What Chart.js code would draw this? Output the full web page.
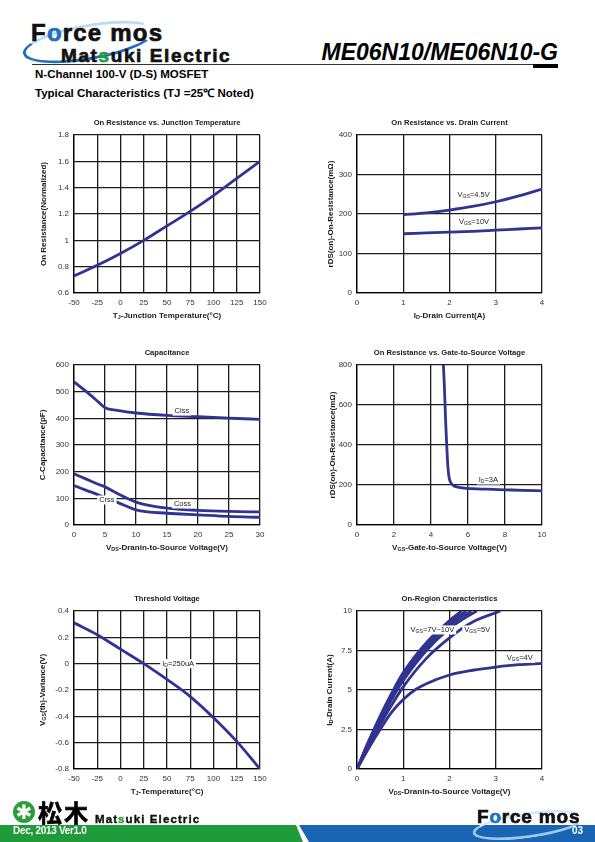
<!DOCTYPE html>
<html lang="en">
<head>
<meta charset="UTF-8">
<title>ME06N10 Typical Characteristics</title>
<style>
  body { margin: 0; width: 595px; height: 842px; position: relative; background: #fff; overflow: hidden;
         font-family: 'Liberation Sans', Arial, sans-serif; }
  canvas { position: absolute; }
  .abs { position: absolute; white-space: nowrap; line-height: 1; }
  .logo { font-weight: bold; color: #111; -webkit-text-stroke: 0.7px #111; }
  .blue { color: #1f6fc4; -webkit-text-stroke-color: #1f6fc4; }
  .green { color: #2a9d3b; -webkit-text-stroke-color: #2a9d3b; }
  .swoosh { position: absolute; border: 3px solid transparent; border-radius: 50%; }
</style>
<script src="https://cdn.jsdelivr.net/npm/chart.js@4"></script>
</head>
<body>
  <!-- header -->
  <div class="swoosh" style="left:22px;top:24px;width:128px;height:30px;border-bottom-color:#1f6fc4;border-left-color:#1f6fc4;border-top-color:#bcd9f2;transform:rotate(-10deg);"></div>
  <div class="abs logo" style="left:31px;top:21px;font-size:24px;letter-spacing:1.2px;">F<span class="blue">o</span>rce mos</div>
  <div class="abs logo" style="left:61px;top:46px;font-size:19px;letter-spacing:1.6px;">Mat<span class="green">s</span>uki Electric</div>
  <div class="abs" style="right:37px;top:41px;font-size:23px;font-weight:bold;font-style:italic;">ME06N10/ME06N10-G</div>
  <div style="position:absolute;left:32px;top:64px;width:526px;height:1px;background:#333;"></div>
  <div style="position:absolute;left:533px;top:64px;width:25px;height:4px;background:#000;"></div>
  <div class="abs" style="left:35px;top:69px;font-size:11.5px;font-weight:bold;">N-Channel 100-V (D-S) MOSFET</div>
  <div class="abs" style="left:35px;top:88px;font-size:11.5px;font-weight:bold;">Typical Characteristics (TJ =25℃ Noted)</div>

  <canvas id="rdsTemp"></canvas>
  <canvas id="rdsCurrent"></canvas>
  <canvas id="capacitance"></canvas>
  <canvas id="rdsGate"></canvas>
  <canvas id="threshold"></canvas>
  <canvas id="onRegion"></canvas>

  <!-- footer -->
  <div style="position:absolute;left:13px;top:801px;width:22px;height:22px;border-radius:50%;background:#2a9d3b;color:#fff;font:bold 20px 'DejaVu Sans';text-align:center;line-height:22px;">✱</div>
  <div class="abs" style="left:38px;top:800px;font-family:'Noto Sans CJK JP';font-weight:bold;font-size:24px;letter-spacing:2px;-webkit-text-stroke:0.6px #000;">松木</div>
  <div class="abs logo" style="left:95px;top:814px;font-size:11.5px;letter-spacing:1.1px;-webkit-text-stroke-width:0.4px;">Mat<span class="green">s</span>uki Electric</div>
  <div style="position:absolute;left:0;top:825px;width:595px;height:17px;background:#1f9a3a;clip-path:polygon(0 0,296px 0,303px 100%,0 100%);"></div>
  <div style="position:absolute;left:0;top:825px;width:595px;height:17px;background:#1a64b4;clip-path:polygon(299px 0,100% 0,100% 100%,309px 100%);"></div>
  <div class="abs" style="left:13px;top:826px;font-size:10px;font-weight:bold;color:#fff;letter-spacing:-0.3px;">Dec, 2013 Ver1.0</div>
  <div class="swoosh" style="left:472px;top:812px;width:108px;height:20px;border-bottom-color:#9cc8ef;border-left-color:#9cc8ef;border-top-color:#d6e9f8;transform:rotate(-8deg);"></div>
  <div class="abs logo" style="left:477px;top:807px;font-size:19px;letter-spacing:0.8px;">F<span class="blue">o</span>rce mos</div>
  <div class="abs" style="left:572px;top:826px;font-size:10px;font-weight:bold;color:#fff;">03</div>

<script>
const INK = '#30338f';
const FONT = "'Liberation Sans', Arial, sans-serif";

// 1. On resistance vs. junction temperature
const tjTemp = [-50, -25, 0, 25, 50, 75, 100, 125, 150];
const rdsNorm = [0.73, 0.81, 0.90, 1.00, 1.11, 1.22, 1.34, 1.47, 1.60];
const tempTicks = [-50, -25, 0, 25, 50, 75, 100, 125, 150];
const normTicks = [0.6, 0.8, 1, 1.2, 1.4, 1.6, 1.8];

// 2. On resistance vs. drain current
const idAmps = [1, 1.5, 2, 2.5, 3, 3.5, 4];
const rdsVgs45 = [198, 203, 210, 219, 231, 246, 263];
const rdsVgs10 = [150, 152, 154, 156, 159, 162, 165];
const ampTicks = [0, 1, 2, 3, 4];
const rdsTicks = [0, 100, 200, 300, 400];

// 3. Capacitance
const vdsCap = [0, 2, 4, 5, 7, 10, 15, 20, 25, 30];
const ciss = [537, 500, 460, 440, 430, 420, 411, 406, 401, 396];
const coss = [192, 172, 152, 143, 118, 86, 63, 55, 51, 49];
const crss = [148, 130, 112, 102, 85, 57, 44, 38, 32, 29];
const vdsCapTicks = [0, 5, 10, 15, 20, 25, 30];
const capTicks = [0, 100, 200, 300, 400, 500, 600];

// 4. On resistance vs. gate-to-source voltage
const vgsGate = [4.67, 4.72, 4.76, 4.8, 4.85, 4.9, 4.95, 5.0, 5.1, 5.25, 5.5, 6, 7, 8, 9, 10];
const rdsGate = [800, 700, 600, 500, 400, 310, 255, 228, 208, 195, 188, 183, 179, 176, 173, 171];
const vgsTicks = [0, 2, 4, 6, 8, 10];
const rdsGateTicks = [0, 200, 400, 600, 800];

// 5. Threshold voltage
const tjVth = [-50, -25, 0, 25, 50, 75, 100, 125, 150];
const vthVar = [0.31, 0.22, 0.11, 0.0, -0.12, -0.25, -0.41, -0.59, -0.80];
const vthTicks = [-0.8, -0.6, -0.4, -0.2, 0, 0.2, 0.4];

// 6. On-region characteristics
const vdsV10 = [0, 0.25, 0.5, 0.75, 1, 1.5, 2, 2.26];
const idV10 = [0, 1.75, 3.35, 4.8, 6.1, 8.0, 9.4, 10];
const vdsV9 = [0, 0.25, 0.5, 0.75, 1, 1.5, 2, 2.36];
const idV9 = [0, 1.7, 3.25, 4.7, 5.95, 7.85, 9.25, 10];
const vdsV8 = [0, 0.25, 0.5, 0.75, 1, 1.5, 2, 2.47];
const idV8 = [0, 1.65, 3.15, 4.55, 5.8, 7.7, 9.1, 10];
const vdsV7 = [0, 0.25, 0.5, 0.75, 1, 1.5, 2, 2.3, 2.59];
const idV7 = [0, 1.6, 3.0, 4.4, 5.6, 7.5, 8.9, 9.5, 10];
const vdsV5 = [0, 0.25, 0.5, 0.75, 1, 1.5, 2, 2.5, 3.1];
const idV5 = [0, 1.45, 2.8, 4.05, 5.2, 7.0, 8.3, 9.3, 10];
const vdsV4 = [0, 0.25, 0.5, 0.75, 1, 1.25, 1.5, 2, 2.5, 3, 3.5, 4];
const idV4 = [0, 1.3, 2.5, 3.6, 4.4, 5.0, 5.4, 5.95, 6.25, 6.45, 6.6, 6.68];
const vdsTicks = [0, 1, 2, 3, 4];
const idTicks = [0, 2.5, 5, 7.5, 10];

// text with subscripts: segments split by "_", odd segments are subscripts
function drawRich(ctx, str, x, y, size, bold, bg) {
  const parts = str.split('_');
  const base = (bold ? 'bold ' : '') + size + 'px ' + FONT;
  const small = (bold ? 'bold ' : '') + (size * 0.68).toFixed(1) + 'px ' + FONT;
  let w = 0;
  parts.forEach((p, i) => { ctx.font = i % 2 ? small : base; w += ctx.measureText(p).width; });
  let cx = x - w / 2;
  if (bg) { ctx.fillStyle = '#fff'; ctx.fillRect(cx - 2, y - size * 0.6, w + 4, size * 1.2); }
  ctx.fillStyle = '#1a1a1a';
  ctx.textAlign = 'left';
  ctx.textBaseline = 'middle';
  parts.forEach((p, i) => {
    ctx.font = i % 2 ? small : base;
    ctx.fillText(p, cx, y + (i % 2 ? size * 0.22 : 0));
    cx += ctx.measureText(p).width;
  });
}

const sheetText = {
  id: 'sheetText',
  afterDraw(chart, args, o) {
    const { ctx, chartArea: a, scales } = chart;
    const cx = (a.left + a.right) / 2;
    ctx.save();
    drawRich(ctx, o.title, cx, a.top - 12, 7.6, true);
    drawRich(ctx, o.xTitle, cx, a.bottom + 23, 8, true);
    ctx.translate(a.left - o.yGap, (a.top + a.bottom) / 2);
    ctx.rotate(-Math.PI / 2);
    drawRich(ctx, o.yTitle, 0, 0, 8, true);
    ctx.restore();
    (o.notes || []).forEach(n => {
      ctx.save();
      drawRich(ctx, n.text, scales.x.getPixelForValue(n.x), scales.y.getPixelForValue(n.y), 7.5, false, true);
      ctx.restore();
    });
  }
};

function curve(xs, ys) {
  return {
    data: xs.map((x, i) => ({ x: x, y: ys[i] })),
    borderColor: INK, borderWidth: 2.8, pointRadius: 0,
    cubicInterpolationMode: 'monotone', fill: false
  };
}

function axis(ticks, fit) {
  return {
    type: 'linear', min: ticks[0], max: ticks[ticks.length - 1],
    afterBuildTicks: s => { s.ticks = ticks.map(v => ({ value: v })); },
    afterFit: fit,
    grid: { color: '#1c1c1c', lineWidth: 1.3, drawTicks: false },
    border: { color: '#000', width: 1.3 },
    ticks: { color: '#333', font: { family: FONT, size: 8 }, padding: 5,
             autoSkip: false, maxRotation: 0, callback: v => String(v) }
  };
}

function sheetChart(id, box, datasets, xTicks, yTicks, text) {
  const cv = document.getElementById(id);
  cv.width = box.w + 64;
  cv.height = box.h + 57;
  cv.style.left = (box.l - 50) + 'px';
  cv.style.top = (box.t - 25) + 'px';
  return new Chart(cv, {
    type: 'line',
    data: { datasets: datasets },
    options: {
      responsive: false, animation: false,
      layout: { padding: { top: 25, right: 14, bottom: 0, left: 0 } },
      scales: {
        x: axis(xTicks, s => { s.height = 32; }),
        y: axis(yTicks, s => { s.width = 50; })
      },
      plugins: { legend: { display: false }, tooltip: { enabled: false }, sheetText: text }
    },
    plugins: [sheetText]
  });
}

sheetChart('rdsTemp', { l: 74, t: 135, w: 186, h: 158 },
  [curve(tjTemp, rdsNorm)], tempTicks, normTicks,
  { title: 'On Resistance vs. Junction Temperature', xTitle: 'T_J_-Junction Temperature(°C)',
    yTitle: 'On Resistance(Normalized)', yGap: 30 });

sheetChart('rdsCurrent', { l: 357, t: 135, w: 185, h: 158 },
  [curve(idAmps, rdsVgs45), curve(idAmps, rdsVgs10)], ampTicks, rdsTicks,
  { title: 'On Resistance vs. Drain Current', xTitle: 'I_D_-Drain Current(A)',
    yTitle: 'rDS(on)-On-Resistance(mΩ)', yGap: 26,
    notes: [{ x: 2.52, y: 248, text: 'V_GS_=4.5V' }, { x: 2.53, y: 180, text: 'V_GS_=10V' }] });

sheetChart('capacitance', { l: 74, t: 365, w: 186, h: 160 },
  [curve(vdsCap, ciss), curve(vdsCap, coss), curve(vdsCap, crss)], vdsCapTicks, capTicks,
  { title: 'Capacitance', xTitle: 'V_DS_-Dranin-to-Source Voltage(V)',
    yTitle: 'C-Capacitance(pF)', yGap: 31,
    notes: [{ x: 17.4, y: 427, text: 'Ciss' }, { x: 17.5, y: 79, text: 'Coss' }, { x: 5.3, y: 94, text: 'Crss' }] });

sheetChart('rdsGate', { l: 357, t: 365, w: 185, h: 160 },
  [curve(vgsGate, rdsGate)], vgsTicks, rdsGateTicks,
  { title: 'On Resistance vs. Gate-to-Source Voltage', xTitle: 'V_GS_-Gate-to-Source Voltage(V)',
    yTitle: 'rDS(on)-On-Resistance(mΩ)', yGap: 24,
    notes: [{ x: 7.1, y: 225, text: 'I_D_=3A' }] });

sheetChart('threshold', { l: 74, t: 611, w: 186, h: 158 },
  [curve(tjVth, vthVar)], tempTicks, vthTicks,
  { title: 'Threshold Voltage', xTitle: 'T_J_-Temperature(°C)',
    yTitle: 'V_GS_(th)-Variance(V)', yGap: 31,
    notes: [{ x: 62, y: 0, text: 'I_D_=250uA' }] });

sheetChart('onRegion', { l: 357, t: 611, w: 185, h: 158 },
  [curve(vdsV10, idV10), curve(vdsV9, idV9), curve(vdsV8, idV8), curve(vdsV7, idV7),
   curve(vdsV5, idV5), curve(vdsV4, idV4)], vdsTicks, idTicks,
  { title: 'On-Region Characteristics', xTitle: 'V_DS_-Dranin-to-Source Voltage(V)',
    yTitle: 'I_D_-Drain Current(A)', yGap: 27,
    notes: [{ x: 1.63, y: 8.8, text: 'V_GS_=7V~10V' }, { x: 2.6, y: 8.8, text: 'V_GS_=5V' },
            { x: 3.52, y: 7.0, text: 'V_GS_=4V' }] });
</script>
</body>
</html>
